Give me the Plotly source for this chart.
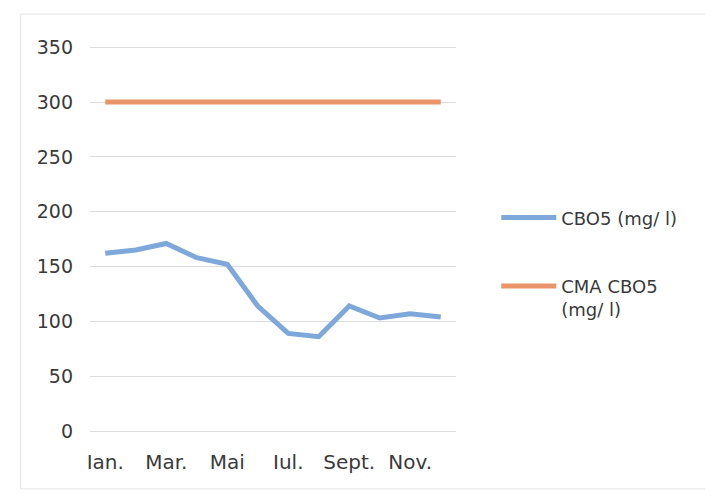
import plotly.graph_objects as go

months = ["Ian.", "Feb.", "Mar.", "Apr.", "Mai", "Iun.", "Iul.", "Aug.", "Sept.", "Oct.", "Nov.", "Dec."]
cbo5 = [162, 165, 171, 158, 152, 114, 89, 86, 114, 103, 107, 104]
cma_cbo5 = [300] * 12
shown_ticks = ["Ian.", "Mar.", "Mai", "Iul.", "Sept.", "Nov."]
y_ticks = [0, 50, 100, 150, 200, 250, 300, 350]

font_family = "DejaVu Sans"
text_color = "#3a3a3a"

fig = go.Figure()
fig.add_trace(go.Scatter(
    x=months, y=cbo5, mode="lines", name="CBO5 (mg/ l)",
    line=dict(color="#7EA8DA", width=5), legendgroup="a",
))
fig.add_trace(go.Scatter(
    x=months, y=cma_cbo5, mode="lines", name="CMA CBO5<br>(mg/ l)",
    line=dict(color="#E99469", width=5), legendgroup="b",
))

fig.update_layout(
    width=713, height=497,
    margin=dict(l=82, r=265, t=37, b=74, autoexpand=False),
    paper_bgcolor="white", plot_bgcolor="white",
    font=dict(family=font_family, size=19, color=text_color),
    showlegend=True,
    legend=dict(
        x=1.11, xanchor="left", y=0.60, yanchor="top",
        font=dict(size=18, color=text_color),
        itemwidth=55, tracegroupgap=42, valign="top",
        bgcolor="rgba(0,0,0,0)",
    ),
    xaxis=dict(
        type="category", tickmode="array", tickvals=shown_ticks, ticktext=shown_ticks,
        showgrid=False, showline=False, ticks="", ticklabelstandoff=17,
        range=[-0.5, 11.5], automargin=False, tickfont=dict(size=20),
    ),
    yaxis=dict(
        range=[0, 352], tickvals=y_ticks, showgrid=True, gridcolor="#dcdcdc", gridwidth=1,
        zeroline=True, zerolinecolor="#dcdcdc", zerolinewidth=1,
        showline=False, ticks="", ticklabelstandoff=16, automargin=False,
    ),
)

fig.add_shape(type="rect", xref="paper", yref="paper",
              x0=-0.19, x1=1.75, y0=-0.15, y1=1.08,
              line=dict(color="#e4e4e4", width=1))

fig.write_html("out.html")
